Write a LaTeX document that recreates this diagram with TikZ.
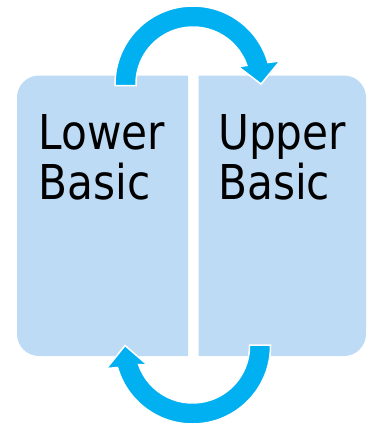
\documentclass[tikz,border=0pt]{standalone}
\usepackage{fontspec}
\setmainfont{DejaVu Sans}[FakeStretch=0.88]
\usetikzlibrary{calc}
\definecolor{boxc}{RGB}{189,219,245}
\definecolor{arrowc}{RGB}{0,176,240}
\begin{document}
\begin{tikzpicture}[x=1pt,y=1pt,
  boxshape/.style={fill=boxc},
  cyclearrow/.style={fill=arrowc, draw=white, line width=1.5pt, line join=miter},
  lbl/.style={font=\fontsize{48}{50}\selectfont, align=left, anchor=north west, inner sep=0pt, text=black}]
\useasboundingbox (0,0) rectangle (367,-424);
% boxes
\fill[boxshape] (188,-75.5) -- (39,-75.5) arc[start angle=90,end angle=180,radius=22]
  -- (17,-334) arc[start angle=180,end angle=270,radius=22] -- (188,-356) -- cycle;
\fill[boxshape] (198.5,-75.5) -- (344,-75.5) arc[start angle=90,end angle=0,radius=22]
  -- (366,-334) arc[start angle=0,end angle=-90,radius=22] -- (198.5,-356) -- cycle;
\coordinate (c1) at (193,-84);
\coordinate (c2) at (192.5,-346);
% top arrow
\path[cyclearrow] (115,-85.5) -- ($(c1)+(180:78)$) arc[start angle=180,end angle=16,radius=78]
  -- (280,-61) -- (261,-84) -- (238.3,-66.7) -- ($(c1)+(19:57)$)
  arc[start angle=19,end angle=180,radius=57] -- (136,-85.5) -- cycle;
% bottom arrow
\path[cyclearrow] (270.5,-345) -- ($(c2)+(0:78)$) arc[start angle=0,end angle=-164,radius=78]
  -- (106.5,-368.5) -- (125,-345.5) -- (147.5,-365) -- ($(c2)+(-161:57)$)
  arc[start angle=-161,end angle=0,radius=57] -- (249.5,-345) -- cycle;
% labels
\node[lbl] (lower) at (38.5,-114) {Lower\\Basic};
\node[lbl] (upper) at (218,-114) {Upper\\Basic};
\end{tikzpicture}
\end{document}
